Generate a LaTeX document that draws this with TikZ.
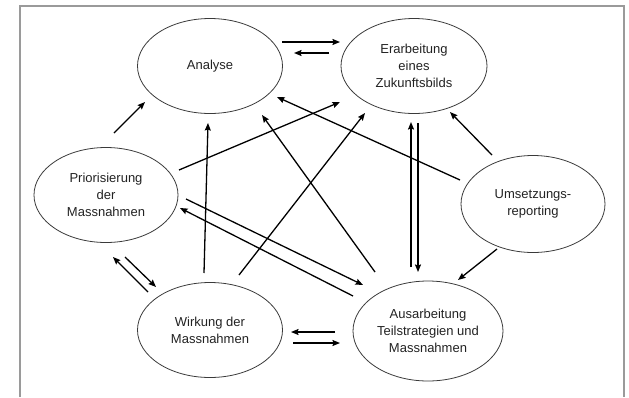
\documentclass[tikz,border=0pt]{standalone}
\usepackage{fontspec}
\setmainfont{Liberation Sans}
\usetikzlibrary{shapes.geometric,arrows.meta,calc}
\definecolor{framegray}{HTML}{9A9A9A}
\definecolor{ellgray}{HTML}{3A3A3A}
\definecolor{txtgray}{HTML}{222222}
\begin{document}
\begin{tikzpicture}[x=1pt,y=-1pt,
  bubble/.style={ellipse,draw=ellgray,line width=0.8pt,inner sep=0pt,align=center,
    text=txtgray,font=\fontsize{13}{17}\selectfont},
  conn/.style={line width=1.3pt,-{Stealth[length=7.5pt,width=6pt,inset=1pt]}}]
\useasboundingbox (0,0) rectangle (629,397);
\draw[framegray,line width=1.5pt] (20,397) -- (20,6) -- (624,6) -- (624,397);

\node[bubble,minimum width=145pt,minimum height=95pt] (A) at (210,66) {Analyse};
\node[bubble,minimum width=146pt,minimum height=95pt] (E) at (414,66) {Erarbeitung\\eines\\Zukunftsbilds};
\node[bubble,minimum width=144pt,minimum height=95pt] (P) at (106,195) {Priorisierung\\der\\Massnahmen};
\node[bubble,minimum width=144pt,minimum height=97pt] (U) at (533,204) {Umsetzungs-\\reporting};
\node[bubble,minimum width=145pt,minimum height=95pt] (W) at (210,330) {Wirkung der\\Massnahmen};
\node[bubble,minimum width=150pt,minimum height=100pt] (T) at (428,331) {Ausarbeitung\\Teilstrategien und\\Massnahmen};

% 1-2 A <-> E
\draw[conn] ($(A)+(72,-24)$) -- ($(E)+(-74,-24)$);
\draw[conn] ($(E)+(-85,-13)$) -- ($(A)+(84,-13)$);
% 3 P -> A
\draw[conn] ($(P)+(8,-62)$) -- ($(A)+(-65,36)$);
% 4 P -> E
\draw[conn] ($(P)+(73,-25)$) -- ($(E)+(-74,36)$);
% 5 W -> A
\draw[conn] ($(W)+(-6,-57)$) -- ($(A)+(-2,57)$);
% 6 T -> A
\draw[conn] ($(T)+(-53,-59)$) -- ($(A)+(52,49)$);
% 7 W -> E
\draw[conn] ($(W)+(29,-55)$) -- ($(E)+(-49,47)$);
% 8 U -> A
\draw[conn] ($(U)+(-73,-24)$) -- ($(A)+(67,31)$);
% 9 U -> E
\draw[conn] ($(U)+(-41,-49)$) -- ($(E)+(36,46)$);
% 10-11 T <-> E
\draw[conn] ($(T)+(-17,-64)$) -- ($(E)+(-3,56)$);
\draw[conn] ($(E)+(4,57)$) -- ($(T)+(-10,-59)$);
% 12 U -> T
\draw[conn] ($(U)+(-36,45)$) -- ($(T)+(30,-51)$);
% 13-14 P <-> T
\draw[conn] ($(P)+(80,4)$) -- ($(T)+(-65,-46)$);
\draw[conn] ($(T)+(-75,-35)$) -- ($(P)+(74,13)$);
% 15-16 W <-> P
\draw[conn] ($(W)+(-62,-38)$) -- ($(P)+(7,62)$);
\draw[conn] ($(P)+(19,62)$) -- ($(W)+(-54,-43)$);
% 17-18 T <-> W
\draw[conn] ($(T)+(-93,1)$) -- ($(W)+(81,2)$);
\draw[conn] ($(W)+(83,13)$) -- ($(T)+(-88,12)$);
\end{tikzpicture}
\end{document}
